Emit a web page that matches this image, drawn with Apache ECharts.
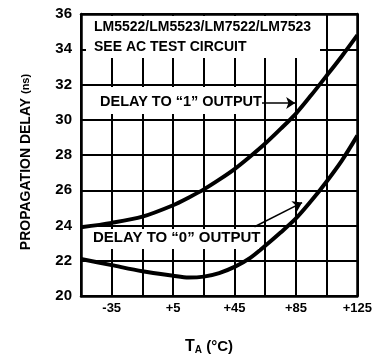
<!DOCTYPE html>
<html><head><meta charset="utf-8">
<script src="https://cdn.jsdelivr.net/npm/echarts@6/dist/echarts.min.js"></script>
<style>html,body{margin:0;padding:0;background:#fff}#c{width:375px;height:355px}</style>
</head><body><div id="c"></div>
<script>
// Data (T_A in °C, delay in ns)
const temps = [-55, -35, -15, 5, 15, 25, 35, 45, 55, 65, 75, 85, 95, 105, 115, 125];
const delayTo1 = [23.9, 24.15, 24.5, 25.15, 25.58, 26.05, 26.6, 27.2, 27.9, 28.65, 29.48, 30.35, 31.4, 32.5, 33.62, 34.8];
const delayTo0 = [22.1, 21.75, 21.4, 21.15, 21.05, 21.1, 21.3, 21.65, 22.15, 22.85, 23.6, 24.4, 25.4, 26.5, 27.7, 29.1];
const xTickValues = [-35, 5, 45, 85, 125];
const xTickLabels = ['-35', '+5', '+45', '+85', '+125'];
const xGridValues = [-35, -15, 5, 25, 45, 65, 85, 105];
const yTickLabels = ['20', '22', '24', '26', '28', '30', '32', '34', '36'];

// The temperature axis starts at -55 °C with grid lines every 20 °C;
// the axis is run in offset units (T - T_MIN) so ticks fall at -55, -35, ...
const T_MIN = -55, T_MAX = 125;
const toAxis = t => t - T_MIN;

const FONT = '"Liberation Sans", Arial, sans-serif';
const chart = echarts.init(document.getElementById('c'), null, {renderer: 'canvas'});

const frameAxis = {axisLine: {show: true, onZero: false, lineStyle: {color: '#000', width: 2.5}}, axisTick: {show: false}, axisLabel: {show: false}, splitLine: {show: false}};

const option = {
  animation: false,
  backgroundColor: '#fff',
  grid: {left: 81, right: 14, top: 14, bottom: 59, show: false, containLabel: false},
  xAxis: [{
    type: 'value', min: 0, max: toAxis(T_MAX), interval: 20, position: 'bottom',
    axisLine: {show: true, onZero: false, lineStyle: {color: '#000', width: 2.5}},
    axisTick: {show: false},
    splitLine: {show: true, lineStyle: {color: '#000', width: 2}},
    axisLabel: {
      interval: 0, color: '#000', fontFamily: FONT, fontWeight: 'bold', fontSize: 13, margin: 6,
      formatter: v => { const i = xTickValues.indexOf(Math.round(v + T_MIN)); return i >= 0 ? xTickLabels[i] : ''; }
    }
  }, Object.assign({type: 'value', min: 0, max: toAxis(T_MAX), position: 'top'}, frameAxis)],
  yAxis: [{
    type: 'value', min: 20, max: 36, interval: 2, position: 'left',
    axisLine: {show: true, onZero: false, lineStyle: {color: '#000', width: 2.5}},
    axisTick: {show: false},
    splitLine: {show: true, lineStyle: {color: '#000', width: 2}},
    axisLabel: {
      interval: 0, color: '#000', fontFamily: FONT, fontWeight: 'bold', fontSize: 15, margin: 9,
      formatter: v => yTickLabels[Math.round((v - 20) / 2)]
    }
  }, Object.assign({type: 'value', min: 20, max: 36, position: 'right'}, frameAxis)],
  series: [
    {
      // vertical grid lines, placed through the x axis
      name: 'grid', type: 'line', data: [], silent: true,
      markLine: {
        silent: true, symbol: ['none', 'none'], label: {show: false}, animation: false,
        lineStyle: {color: '#000', width: 2, type: 'solid', opacity: 1}, emphasis: {disabled: true},
        data: xGridValues.map(t => ({xAxis: toAxis(t)}))
      }
    },
    {
      name: 'Delay to "1" output', type: 'line', smooth: 0.3, showSymbol: false, z: 3,
      data: temps.map((t, i) => [toAxis(t), delayTo1[i]]),
      lineStyle: {color: '#000', width: 4},
      emphasis: {disabled: true},
      markLine: {
        silent: true, symbol: ['none', 'arrow'], symbolSize: 9, label: {show: false},
        lineStyle: {color: '#000', width: 1.5, type: 'solid'}, emphasis: {disabled: true},
        data: [[{coord: [toAxis(62), 30.95]}, {coord: [toAxis(84.5), 30.95]}]]
      }
    },
    {
      name: 'Delay to "0" output', type: 'line', smooth: 0.3, showSymbol: false, z: 3,
      data: temps.map((t, i) => [toAxis(t), delayTo0[i]]),
      lineStyle: {color: '#000', width: 4},
      emphasis: {disabled: true},
      markLine: {
        silent: true, symbol: ['none', 'arrow'], symbolSize: 9, label: {show: false},
        lineStyle: {color: '#000', width: 1.5, type: 'solid', curveness: 0.2}, emphasis: {disabled: true},
        data: [[{coord: [toAxis(58), 23.93]}, {coord: [toAxis(89), 25.3]}]]
      }
    }
  ],
  graphic: [
    {type: 'rect', z: 6, shape: {x: 86, y: 16, width: 234, height: 42}, style: {fill: '#fff'}},
    {type: 'rect', z: 6, shape: {x: 88, y: 87, width: 174, height: 27}, style: {fill: '#fff'}},
    {type: 'rect', z: 6, shape: {x: 83, y: 229, width: 176, height: 20}, style: {fill: '#fff'}},
    {type: 'text', z: 7, left: 94, top: 20, style: {text: 'LM5522/LM5523/LM7522/LM7523', font: 'bold 14px ' + FONT, fill: '#000'}},
    {type: 'text', z: 7, left: 94, top: 40, style: {text: 'SEE AC TEST CIRCUIT', font: 'bold 14px ' + FONT, fill: '#000'}},
    {type: 'text', z: 7, left: 100, top: 94, style: {text: 'DELAY TO \u201C1\u201D OUTPUT', font: 'bold 14.5px ' + FONT, fill: '#000'}},
    {type: 'text', z: 7, left: 93, top: 230, style: {text: 'DELAY TO \u201C0\u201D OUTPUT', font: 'bold 15px ' + FONT, fill: '#000'}},
    {type: 'text', z: 7, x: 26, y: 162, rotation: Math.PI / 2,
      style: {text: 'PROPAGATION DELAY {s|(ns)}', font: 'bold 14px ' + FONT, fill: '#000', align: 'center', verticalAlign: 'middle',
        rich: {s: {font: 'bold 11px ' + FONT, fill: '#000'}}}},
    {type: 'text', z: 7, x: 209, y: 347,
      style: {text: '{t|T}{a|A}{b| (\u00B0C)}', fill: '#000', align: 'center', verticalAlign: 'middle',
        rich: {t: {font: 'bold 16px ' + FONT}, a: {font: 'bold 10px ' + FONT, padding: [7, 0, 0, 0]}, b: {font: 'bold 15px ' + FONT}}}}
  ]
};
chart.setOption(option);
</script>
</body></html>
